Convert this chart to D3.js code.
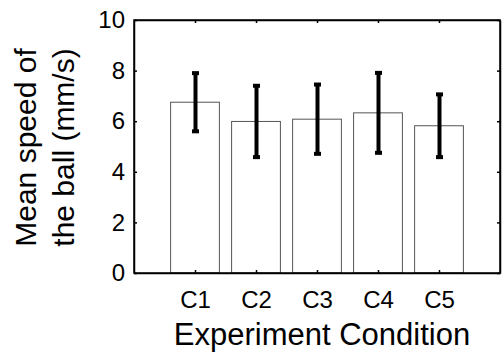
<!DOCTYPE html>
<html><head><meta charset="utf-8">
<script src="https://cdn.jsdelivr.net/npm/d3@7"></script>
<style>
body{margin:0;background:#fff;}
text{font-family:"Liberation Sans",Arial,sans-serif;fill:#000;}
</style></head>
<body><svg id="c" width="502" height="354"></svg>
<script>
const categories = ["C1","C2","C3","C4","C5"];
const means = [6.75, 5.99, 6.08, 6.33, 5.82];
const errors = [1.15, 1.41, 1.37, 1.58, 1.24];
const yTicks = [0,2,4,6,8,10];

const svg = d3.select("#c");
const L=134, R=500, T=20, B=273;
const x = d3.scaleLinear().domain([0,6]).range([L,R]);
const y = d3.scaleLinear().domain([0,10]).range([B,T]);
const bw = x(0.8)-x(0);

// bars
svg.append("g").selectAll("rect").data(means).join("rect")
  .attr("x",(d,i)=>x(i+1)-bw/2).attr("y",d=>y(d))
  .attr("width",bw).attr("height",d=>B-y(d))
  .attr("fill","#fff").attr("stroke","#555").attr("stroke-width",1);

// error bars
const eg = svg.append("g").attr("stroke","#000").attr("stroke-width",4);
means.forEach((m,i)=>{
  const cx = x(i+1)+0.5;
  eg.append("line").attr("x1",cx).attr("x2",cx).attr("y1",y(m+errors[i])).attr("y2",y(m-errors[i]));
  [m+errors[i], m-errors[i]].forEach(v=>{
    eg.append("line").attr("x1",cx-3.5).attr("x2",cx+3.5).attr("y1",y(v)).attr("y2",y(v));
  });
});

// axes
const fs = "24px";
const ax = svg.append("g");
ax.append("g").attr("transform",`translate(${L},0)`)
  .call(d3.axisLeft(y).tickValues(yTicks).tickSize(-3).tickSizeOuter(0).tickPadding(9));
ax.append("g").attr("transform",`translate(${R},0)`)
  .call(d3.axisRight(y).tickValues(yTicks).tickSize(-3).tickSizeOuter(0).tickFormat(""));
ax.append("g").attr("transform",`translate(0,${B})`)
  .call(d3.axisBottom(x).tickValues([1,2,3,4,5]).tickFormat(d=>categories[d-1]).tickSize(-3).tickSizeOuter(0).tickPadding(18));
ax.append("g").attr("transform",`translate(0,${T})`)
  .call(d3.axisTop(x).tickValues([1,2,3,4,5]).tickSize(-3).tickSizeOuter(0).tickFormat(""));
ax.selectAll("g").attr("font-family","Liberation Sans, Arial, sans-serif");
ax.selectAll(".domain").attr("stroke","#000").attr("stroke-width",1.5);
ax.selectAll(".tick line").attr("stroke","#000").attr("stroke-width",1.5);
ax.selectAll(".tick text").style("font-size",fs);
svg.append("rect").attr("x",L).attr("y",T).attr("width",R-L).attr("height",B-T)
  .attr("fill","none").attr("stroke","#000").attr("stroke-width",1.5);

// axis labels
svg.append("text").attr("x",322).attr("y",345).attr("text-anchor","middle")
  .style("font-size","31px").text("Experiment Condition");
const yl = svg.append("text").attr("transform",`translate(0,${(T+B)/2+1}) rotate(-90)`)
  .attr("text-anchor","middle").style("font-size","30px");
yl.append("tspan").attr("x",0).attr("y",36).text("Mean speed of");
yl.append("tspan").attr("x",0).attr("y",74).text("the ball (mm/s)");
</script></body></html>
